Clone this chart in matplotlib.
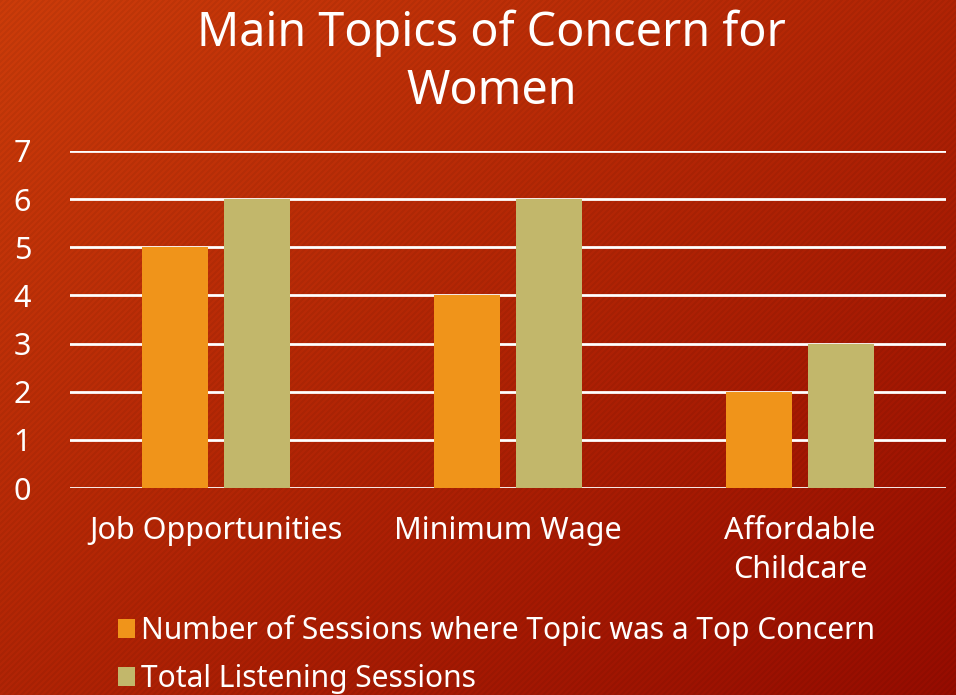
import numpy as np
import matplotlib.pyplot as plt

# Datos del gráfico
categories = ["Job Opportunities", "Minimum Wage", "Affordable\nChildcare"]
top_concern = [5, 4, 2]
total_sessions = [6, 6, 3]
series_names = ["Number of Sessions where Topic was a Top Concern",
                "Total Listening Sessions"]
colors = ["#F0941A", "#C2B76B"]

plt.rcParams['font.family'] = ['Noto Sans', 'DejaVu Sans']

W, H = 956, 695
fig = plt.figure(figsize=(W / 100, H / 100), dpi=100)

# Fondo con degradado diagonal y rayas finas
yy, xx = np.mgrid[0:H, 0:W]
t = (xx / W + yy / H) / 2.0
c0 = np.array([204, 60, 10]) / 255.0
c1 = np.array([150, 12, 0]) / 255.0
bg = c0[None, None, :] * (1 - t[..., None]) + c1[None, None, :] * t[..., None]
stripes = ((xx + yy) % 6) < 3
bg[stripes] *= 0.95
bg_ax = fig.add_axes([0, 0, 1, 1], zorder=-10)
bg_ax.imshow(bg, aspect='auto', interpolation='nearest')
bg_ax.axis('off')

ax = fig.add_axes([70 / W, 1 - 488 / H, 876 / W, 337 / H])
ax.patch.set_alpha(0)

x = np.arange(len(categories))
width = 0.226
ax.bar(x - 0.142, top_concern, width, color=colors[0], label=series_names[0], zorder=3)
ax.bar(x + 0.142, total_sessions, width, color=colors[1], label=series_names[1], zorder=3)

ax.set_xlim(-0.5, len(categories) - 0.5)
ax.set_ylim(0, 7)
ax.set_yticks(range(0, 8))
ax.yaxis.grid(True, color='white', linewidth=2, zorder=0)
ax.set_axisbelow(True)
for s in ax.spines.values():
    s.set_visible(False)
ax.tick_params(axis='both', length=0, colors='white', labelsize=22)
ax.tick_params(axis='y', pad=28)
ax.tick_params(axis='x', pad=20)
ax.set_xticks(x)
ax.set_xticklabels(categories, linespacing=1.38)

fig.text(0.514, 1 - 62 / H, "Main Topics of Concern for\nWomen", ha='center', va='center',
         color='white', fontsize=33.6, linespacing=1.3)

leg = fig.legend(loc='upper left', bbox_to_anchor=(106 / W, 1 - 603 / H), frameon=False,
                 fontsize=21.6, labelcolor='white', handlelength=0.56, handleheight=0.56,
                 handletextpad=0.2, labelspacing=0.6, borderaxespad=0)

fig.savefig("out.png", dpi=100)
